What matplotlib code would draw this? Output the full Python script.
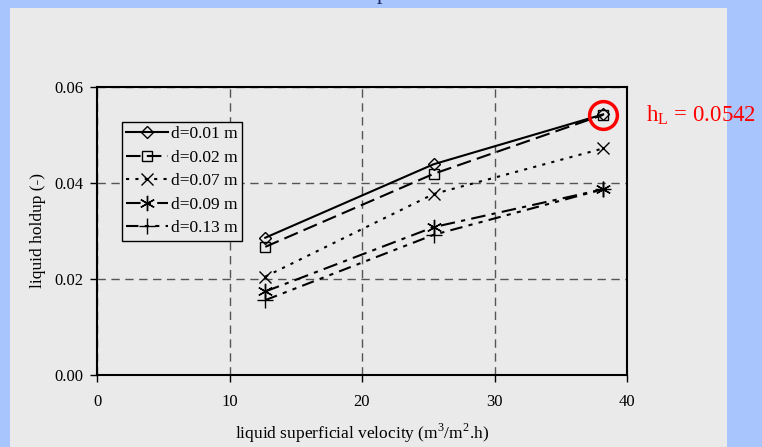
import matplotlib
matplotlib.use("Agg")
from matplotlib import pyplot as plt
from matplotlib.patches import Rectangle

plt.rcParams['font.family'] = ['Liberation Serif', 'DejaVu Serif']

velocity = [12.7, 25.4, 38.2]
d001 = [0.0286, 0.0439, 0.0543]
d002 = [0.0267, 0.0419, 0.0542]
d007 = [0.0205, 0.0377, 0.0472]
d009 = [0.0174, 0.0308, 0.0387]
d013 = [0.0156, 0.0292, 0.0387]
labels = ['d=0.01 m', 'd=0.02 m', 'd=0.07 m', 'd=0.09 m', 'd=0.13 m']
hl_value = 0.0542

fig = plt.figure(figsize=(7.62, 4.47), dpi=100)
fig.patch.set_facecolor('#a9c5fd')
# grey panel
fig.patches.append(Rectangle((10/762, 0), 717/762, 1 - 8/447, transform=fig.transFigure,
                             facecolor='#eaeaea', edgecolor='none', zorder=-5))
# cut off title glyph at the top
fig.text(382/762, 1.0 + 1.5/447, 'p', color='#1a2a6c', fontsize=16, ha='center', va='baseline')

ax = fig.add_axes([97/762, 72/447, 530/762, 288/447])
ax.set_facecolor('#eaeaea')

ax.plot(velocity, d001, color='black', lw=1.5, ls='-', marker='D', ms=6, mfc='none', mew=1, label=labels[0])
ax.plot(velocity, d002, color='black', lw=1.5, ls=(0, (7, 3)), marker='s', ms=7, mfc='none', mew=1, label=labels[1])
ax.plot(velocity, d007, color='black', lw=1.5, ls=(0, (1.5, 3)), marker='x', ms=9, mew=1, label=labels[2])
ax.plot(velocity, d009, color='black', lw=1.5, ls=(0, (7, 3, 2, 3)), marker=(6, 2, 0), ms=11, mew=1, label=labels[3])
ax.plot(velocity, d013, color='black', lw=1.5, ls=(0, (6, 3, 2, 3, 2, 3)), marker='+', ms=11, mew=1, label=labels[4])

# red highlight circle and label
ax.plot([velocity[-1]], [hl_value], marker='o', ms=20, mfc='none', mec='red', mew=2.5, clip_on=False)
ax.annotate('h$_\\mathregular{L}$ = 0.0542', xy=(velocity[-1], hl_value), xytext=(31, 0),
            textcoords='offset points', color='red', fontsize=16.5, va='center', ha='left',
            annotation_clip=False)

ax.set_xlim(0, 40)
ax.set_ylim(0, 0.06)
ax.set_xticks([0, 10, 20, 30, 40])
ax.set_yticks([0.0, 0.02, 0.04, 0.06])
ax.set_yticklabels(['0.00', '0.02', '0.04', '0.06'])
ax.grid(True, color='#555555', ls=(0, (6, 4)), lw=1)
ax.tick_params(direction='out', length=5, width=1, labelsize=12, colors='black')
ax.tick_params(axis='x', pad=9)
ax.tick_params(axis='y', pad=5)
for s in ax.spines.values():
    s.set_linewidth(1.5)
    s.set_color('black')

ax.set_xlabel('liquid superficial velocity (m$^\\mathregular{3}$/m$^\\mathregular{2}$.h)', fontsize=12.5, labelpad=8)
ax.set_ylabel('liquid holdup (-)', fontsize=12.5, labelpad=6)

leg = ax.legend(loc='upper left', bbox_to_anchor=(25/530, 1 - 35/288), fontsize=12.5, frameon=True,
                fancybox=False, edgecolor='black', facecolor='#eaeaea', framealpha=1,
                handlelength=2.4, handletextpad=0.2, labelspacing=0.42, borderpad=0.25, borderaxespad=0)
leg.get_frame().set_linewidth(1)

fig.savefig('out.png', dpi=100, facecolor=fig.get_facecolor())
